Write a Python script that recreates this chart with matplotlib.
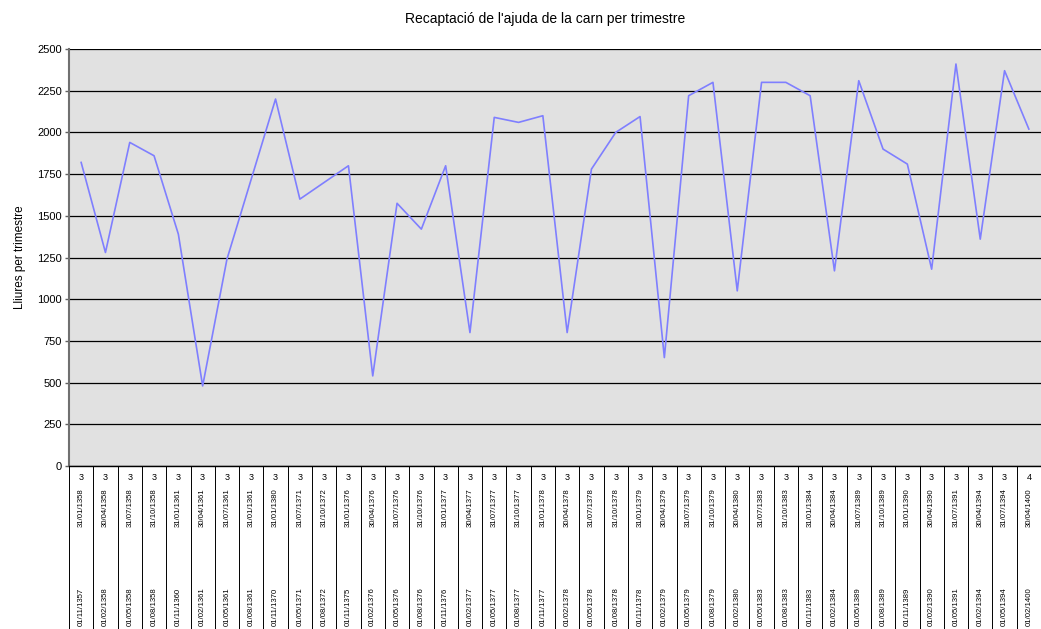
#!/usr/bin/env python3
"""
Recaptació de l'ajuda de la carn per trimestre
Line chart with a three-row category axis (months / end date / start date)
"""

import matplotlib
matplotlib.use('Agg')  # Non-interactive backend
import matplotlib.pyplot as plt

# Data
start_dates = [
    '01/11/1357', '01/02/1358', '01/05/1358', '01/08/1358', '01/11/1360',
    '01/02/1361', '01/05/1361', '01/08/1361', '01/11/1370', '01/05/1371',
    '01/08/1372', '01/11/1375', '01/02/1376', '01/05/1376', '01/08/1376',
    '01/11/1376', '01/02/1377', '01/05/1377', '01/08/1377', '01/11/1377',
    '01/02/1378', '01/05/1378', '01/08/1378', '01/11/1378', '01/02/1379',
    '01/05/1379', '01/08/1379', '01/02/1380', '01/05/1383', '01/08/1383',
    '01/11/1383', '01/02/1384', '01/05/1389', '01/08/1389', '01/11/1389',
    '01/02/1390', '01/05/1391', '01/02/1394', '01/05/1394', '01/02/1400',
]
end_dates = [
    '31/01/1358', '30/04/1358', '31/07/1358', '31/10/1358', '31/01/1361',
    '30/04/1361', '31/07/1361', '31/01/1361', '31/01/1380', '31/07/1371',
    '31/10/1372', '31/01/1376', '30/04/1376', '31/07/1376', '31/10/1376',
    '31/01/1377', '30/04/1377', '31/07/1377', '31/10/1377', '31/01/1378',
    '30/04/1378', '31/07/1378', '31/10/1378', '31/01/1379', '30/04/1379',
    '31/07/1379', '31/10/1379', '30/04/1380', '31/07/1383', '31/10/1383',
    '31/01/1384', '30/04/1384', '31/07/1389', '31/10/1389', '31/01/1390',
    '30/04/1390', '31/07/1391', '30/04/1394', '31/07/1394', '30/04/1400',
]
months = [3] * 39 + [4]
lliures = [
    1820, 1280, 1940, 1860, 1390, 480, 1240, 1720, 2200, 1600,
    1700, 1800, 540, 1575, 1420, 1800, 800, 2090, 2060, 2100,
    800, 1780, 2000, 2095, 650, 2220, 2300, 1050, 2300, 2300,
    2220, 1170, 2310, 1900, 1810, 1180, 2410, 1360, 2370, 2020,
]

FONT = 'Liberation Sans'
plt.rcParams['font.family'] = [FONT, 'DejaVu Sans']

W, H = 1041, 629
left_px, top_px, bottom_px = 69, 49, 466
plot_h = bottom_px - top_px

fig = plt.figure(figsize=(W / 100, H / 100), dpi=100)
fig.patch.set_facecolor('white')
ax = fig.add_axes([left_px / W, 1 - bottom_px / H, (W - left_px) / W, plot_h / H])
ax.set_facecolor('#e1e1e1')

n = len(lliures)
x = [i + 0.5 for i in range(n)]
ax.plot(x, lliures, color='#7f7fff', linewidth=1.2, zorder=3)

ax.set_xlim(0, n)
ax.set_ylim(0, 2500)
ax.set_yticks(range(0, 2501, 250))
ax.tick_params(axis='y', labelsize=8, length=3, width=1, color='#606060', pad=2)
ax.set_xticks([])
ax.grid(True, axis='y', color='black', linewidth=0.9, zorder=1)
ax.set_axisbelow(True)

for side in ['top', 'right']:
    ax.spines[side].set_visible(False)
ax.spines['left'].set_color('#707070')
ax.spines['left'].set_linewidth(1.5)
ax.spines['bottom'].set_color('black')
ax.spines['bottom'].set_linewidth(1)

ax.set_ylabel('Lliures per trimestre', fontsize=8.5, labelpad=8)
fig.text(545 / W, 1 - 19 / H, "Recaptació de l'ajuda de la carn per trimestre",
         ha='center', va='center', fontsize=10)

# multi-level category axis below the plot
trans = ax.get_xaxis_transform()


def px_to_axes(py):
    return (bottom_px - py) / plot_h


ax.vlines(range(n + 1), px_to_axes(H + 2), 0, transform=trans, colors='black',
          linewidth=0.7, clip_on=False)
for i in range(n):
    ax.text(x[i], px_to_axes(478), str(months[i]), transform=trans,
            ha='center', va='center', fontsize=6.5, clip_on=False)
    ax.text(x[i], px_to_axes(508), end_dates[i], transform=trans, rotation=90,
            ha='center', va='center', fontsize=5.6, clip_on=False)
    ax.text(x[i], px_to_axes(607), start_dates[i], transform=trans, rotation=90,
            ha='center', va='center', fontsize=5.6, clip_on=False)

fig.savefig('out.png', dpi=100)
plt.close(fig)
